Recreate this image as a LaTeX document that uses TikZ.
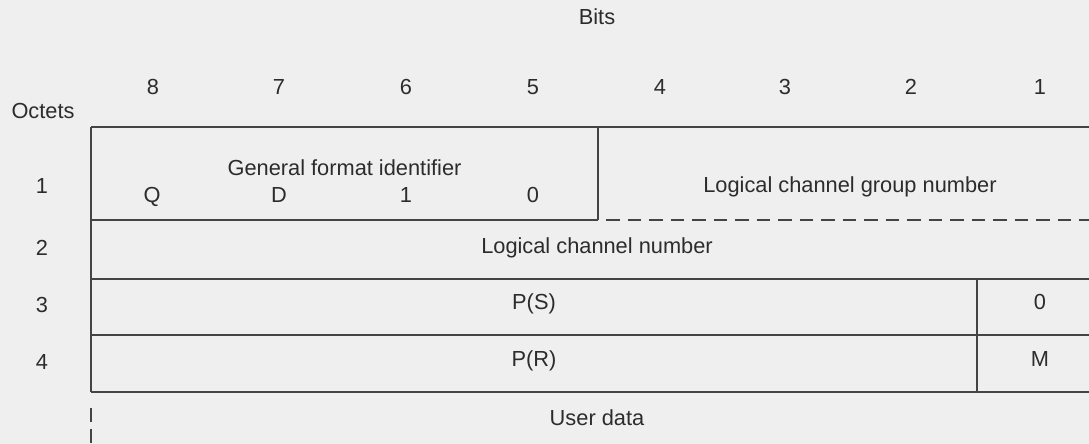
\documentclass[tikz,border=0pt]{standalone}
\usepackage{fontspec}
\setmainfont{Liberation Sans}
\definecolor{paper}{HTML}{EFEFEF}
\definecolor{ink}{HTML}{444444}
\definecolor{txt}{HTML}{2C2C2C}

\begin{document}
\begin{tikzpicture}[x=0.5pt,y=-0.5pt,
  rule/.style={draw=ink,line width=1.1pt},
  brk/.style={rule,dash pattern=on 6.75pt off 4pt},
  lbl/.style={text=txt,font=\fontsize{10.9}{13}\selectfont,anchor=base,inner sep=0pt}]
% page
\fill[paper] (0,0) rectangle (1089,444);
\useasboundingbox (0,0) rectangle (1089,444);

% frame corners and cell edges
\coordinate (tl) at (91,127);
\coordinate (tr) at (1089,127);
\coordinate (r1l) at (91,220);
\coordinate (r1m) at (598,220);
\coordinate (r1d) at (606,220);
\coordinate (r1r) at (1089,220);
\coordinate (gtop) at (598,127);
\coordinate (r2l) at (91,279);
\coordinate (r2r) at (1089,279);
\coordinate (r3l) at (91,335);
\coordinate (r3r) at (1089,335);
\coordinate (r4l) at (91,392);
\coordinate (r4r) at (1089,392);
\coordinate (mtop) at (977,279);
\coordinate (mbot) at (977,392);
\coordinate (ud) at (91,408);
\coordinate (bl) at (91,444);

% table rules
\draw[rule] (tl) -- (tr);
\draw[rule] (tl) -- (r4l);
\draw[rule] (r1l) -- (r1m);
\draw[rule] (gtop) -- (r1m);
\draw[brk] (r1d) -- (r1r);
\draw[rule] (r2l) -- (r2r);
\draw[rule] (r3l) -- (r3r);
\draw[rule] (r4l) -- (r4r);
\draw[rule] (mtop) -- (mbot);
\draw[brk,dash pattern=on 7pt off 3.5pt] (ud) -- (bl);

% headings
\node[lbl] (bits) at (597,25) {Bits};
\node[lbl] (octets) at (43,119) {Octets};
\foreach \b/\x in {8/153,7/279,6/406,5/533,4/660,3/785,2/911,1/1040}
  \node[lbl] (bit\b) at (\x,95) {\b};
\foreach \o/\y in {1/194,2/256,3/313,4/370}
  \node[lbl] (oct\o) at (42,\y) {\o};

% octet 1
\node[lbl] (gfi) at (344.5,176) {General format identifier};
\node[lbl] (q) at (152,203) {Q};
\node[lbl] (d) at (279,203) {D};
\node[lbl] (one) at (406,203) {1};
\node[lbl] (zero) at (533,203) {0};
\node[lbl] (lcgn) at (850,193) {Logical channel group number};
% octet 2
\node[lbl] (lcn) at (597,254) {Logical channel number};
% octets 3 and 4
\node[lbl] (ps) at (534,310) {P(S)};
\node[lbl] (zb) at (1040,310) {0};
\node[lbl] (pr) at (534,366) {P(R)};
\node[lbl] (mb) at (1040,366) {M};
% data field
\node[lbl] (user) at (597,425) {User data};
\end{tikzpicture}
\end{document}
